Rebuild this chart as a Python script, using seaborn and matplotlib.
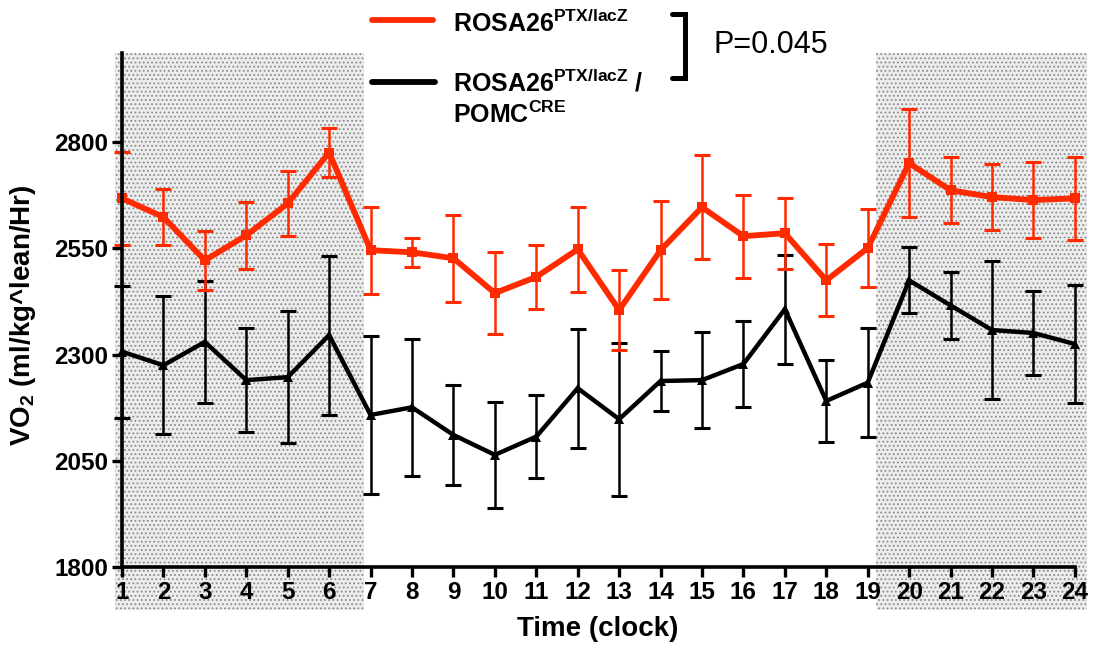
import matplotlib
matplotlib.use("Agg")
import matplotlib.pyplot as plt
from matplotlib.patches import Rectangle
from matplotlib.lines import Line2D
import seaborn as sns
import pandas as pd

#%% Data
hours = list(range(1, 25))

red_mean = [2668, 2624, 2522, 2581, 2656, 2776, 2546, 2541, 2527, 2445, 2483, 2548,
            2405, 2546, 2647, 2579, 2586, 2475, 2551, 2751, 2687, 2671, 2664, 2668]
red_sem = [110, 66, 70, 79, 77, 57, 102, 34, 102, 97, 75, 100,
           94, 115, 122, 98, 84, 85, 92, 127, 78, 77, 90, 98]

black_mean = [2307, 2275, 2330, 2240, 2247, 2346, 2158, 2176, 2111, 2064, 2107, 2221,
              2148, 2238, 2240, 2278, 2407, 2191, 2234, 2475, 2416, 2358, 2351, 2325]
black_sem = [155, 162, 143, 123, 155, 187, 185, 162, 118, 125, 97, 140,
             180, 71, 113, 102, 128, 96, 128, 78, 78, 162, 98, 138]

yticks = [1800, 2050, 2300, 2550, 2800]
dark_periods = [(0.82, 6.85), (19.2, 24.3)]   # shaded (lights off) blocks

RED = "#ff2a00"
BLACK = "black"

#%% Style
sns.set_theme(style="ticks")
plt.rcParams["font.family"] = ["Liberation Sans", "DejaVu Sans"]
plt.rcParams["mathtext.fontset"] = "custom"
plt.rcParams["mathtext.rm"] = "Liberation Sans"
plt.rcParams["mathtext.bf"] = "Liberation Sans:bold"
plt.rcParams["hatch.linewidth"] = 0.8
for k in ["text.color", "axes.labelcolor", "xtick.color", "ytick.color", "axes.edgecolor"]:
    plt.rcParams[k] = "black"

df_red = pd.DataFrame({"hour": hours, "vo2": red_mean})
df_black = pd.DataFrame({"hour": hours, "vo2": black_mean})

fig = plt.figure(figsize=(10.94, 6.48), dpi=100)
ax = fig.add_axes([0.1115, 0.125, 0.871, 0.793])

#---- shaded dark periods ----
for x0, x1 in dark_periods:
    ax.add_patch(Rectangle((x0, 1699), x1 - x0, 3010 - 1699,
                           facecolor="#ececec", edgecolor="#8a8a8a",
                           hatch="....", linewidth=0, clip_on=False, zorder=0))

#---- error bars ----
ax.errorbar(hours, black_mean, yerr=black_sem, fmt="none", ecolor=BLACK,
            elinewidth=1.8, capsize=6, capthick=2.2, clip_on=False, zorder=3)
ax.errorbar(hours, red_mean, yerr=red_sem, fmt="none", ecolor=RED,
            elinewidth=1.8, capsize=6, capthick=2.2, clip_on=False, zorder=4)

#---- mean lines ----
sns.lineplot(data=df_black, x="hour", y="vo2", ax=ax, color=BLACK, lw=3.2,
             marker="^", markersize=7, markeredgewidth=0, clip_on=False, zorder=5)
sns.lineplot(data=df_red, x="hour", y="vo2", ax=ax, color=RED, lw=4.2,
             marker="s", markersize=7.5, markeredgewidth=0, clip_on=False, zorder=6)

#---- axes ----
ax.set_xlim(1, 24)
ax.set_ylim(1800, 3010)
ax.set_xticks(hours)
ax.set_yticks(yticks)
sns.despine(ax=ax)
for s in ["left", "bottom"]:
    ax.spines[s].set_linewidth(2.6)
    ax.spines[s].set_color("black")
    ax.spines[s].set_zorder(7)
ax.tick_params(axis="both", length=7, width=2.4, pad=3, labelsize=17.5,
               color="black", labelcolor="black")
for lab in ax.get_xticklabels() + ax.get_yticklabels():
    lab.set_fontweight("bold")

ax.set_xlabel("Time (clock)", fontsize=20, fontweight="bold", va="top", color="black")
ax.xaxis.set_label_coords(0.499, -0.095)
ax.set_ylabel(r"VO$_{\mathbf{2}}$ (ml/kg^lean/Hr)", fontsize=20, fontweight="bold",
              color="black")
ax.yaxis.set_label_coords(-0.088, 0.49)

#---- legend drawn by hand, with the p-value bracket ----
W, H = 1094.0, 648.0
def fx(px): return px / W
def fy(py): return 1 - py / H

fig.add_artist(Line2D([fx(372), fx(433)], [fy(20), fy(20)], color=RED, lw=4.2))
fig.add_artist(Line2D([fx(372), fx(435)], [fy(82), fy(82)], color=BLACK, lw=4.2))
fig.text(fx(453), fy(32), r"ROSA26$^{\mathbf{PTX/lacZ}}$", fontsize=18,
         fontweight="bold", va="baseline", color="black")
fig.text(fx(453), fy(92), r"ROSA26$^{\mathbf{PTX/lacZ}}$ /", fontsize=18,
         fontweight="bold", va="baseline", color="black")
fig.text(fx(453), fy(123), r"POMC$^{\mathbf{CRE}}$", fontsize=18,
         fontweight="bold", va="baseline", color="black")

fig.add_artist(Line2D([fx(672), fx(685), fx(685), fx(672)],
                      [fy(14), fy(14), fy(78), fy(78)], color=BLACK, lw=3.6,
                      solid_joinstyle="miter"))
fig.text(fx(713), fy(53), "P=0.045", fontsize=22, va="baseline", color="black")

fig.savefig("out.png", dpi=100)
